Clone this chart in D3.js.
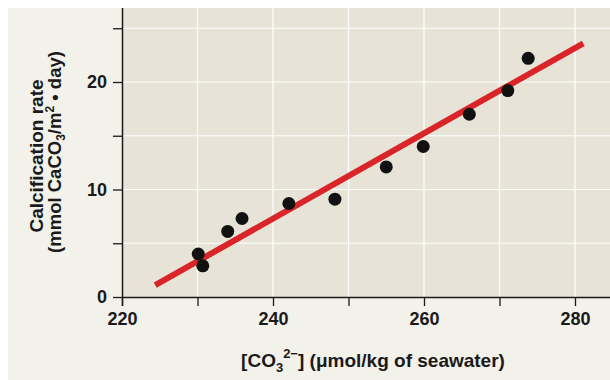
<!DOCTYPE html>
<html>
<head>
<meta charset="utf-8">
<script src="https://cdn.jsdelivr.net/npm/d3@7"></script>
<style>
  body { margin: 0; background: #ffffff; }
  svg { display: block; font-family: "Liberation Sans", Arial, sans-serif; font-weight: bold; }
</style>
</head>
<body>
<svg id="chart" width="610" height="380"></svg>
<script>
// carbonate ion concentration (µmol/kg)
const carbonate = [230.1, 230.7, 234.0, 235.9, 242.1, 248.2, 255.0, 259.9, 266.0, 271.1, 273.8];
// calcification rate (mmol CaCO3 / m2 / day)
const calcRate = [4.0, 2.9, 6.1, 7.3, 8.7, 9.1, 12.1, 14.0, 17.0, 19.2, 22.2];
// fitted line ends
const fitX = [224.4, 281.1];
const fitY = [1.1, 23.6];
const xTicks = [220, 230, 240, 250, 260, 270, 280];
const xLabels = [220, 240, 260, 280];
const yTicks = [0, 5, 10, 15, 20, 25];
const yLabels = [0, 10, 20];

const svg = d3.select("svg#chart");
const W = 610, H = 380;
const ink = "#1a1a1a";

// outer panel
svg.append("rect").attr("x", 8).attr("y", 8).attr("width", W - 8).attr("height", H - 8).attr("fill", "#f2f1ea");

const x = d3.scaleLinear().domain([220, 280]).range([122, 575]);
const y = d3.scaleLinear().domain([0, 20]).range([297, 82]);

// plot area
svg.append("rect")
  .attr("x", x(220)).attr("y", 8)
  .attr("width", W - x(220)).attr("height", y(0) - 8)
  .attr("fill", "#e7e4d7");

// grid
const grid = svg.append("g").attr("stroke", "#ffffff").attr("stroke-width", 1.2);
grid.selectAll("line.v")
  .data(xTicks.slice(1))
  .join("line")
  .attr("x1", (d) => x(d)).attr("x2", (d) => x(d))
  .attr("y1", 8).attr("y2", y(0));
grid.selectAll("line.h")
  .data(yTicks.slice(1))
  .join("line")
  .attr("x1", x(220)).attr("x2", W)
  .attr("y1", (d) => y(d)).attr("y2", (d) => y(d));

// axes
const xAxis = svg.append("g")
  .attr("transform", `translate(0, ${y(0)})`)
  .call(d3.axisBottom(x).tickValues(xTicks).tickSize(9).tickSizeOuter(0)
    .tickFormat((d) => xLabels.includes(d) ? d : ""));
xAxis.select(".domain").attr("d", `M${x(220)},0.5H${W}`).attr("stroke", ink).attr("stroke-width", 1.5);
xAxis.selectAll(".tick line").attr("stroke", ink).attr("stroke-width", 1.3);
xAxis.selectAll("text").attr("font-size", 18).attr("font-family", "Liberation Sans, Arial, sans-serif")
  .attr("font-weight", "bold").attr("fill", ink).attr("dy", "0.9em");

const yAxis = svg.append("g")
  .attr("transform", `translate(${x(220)}, 0)`)
  .call(d3.axisLeft(y).tickValues(yTicks).tickSize(9).tickSizeOuter(0)
    .tickFormat((d) => yLabels.includes(d) ? d : ""));
yAxis.select(".domain").attr("d", `M0.5,8V${y(0) + 9}`).attr("stroke", ink).attr("stroke-width", 1.5);
yAxis.selectAll(".tick line").attr("stroke", ink).attr("stroke-width", 1.3);
yAxis.selectAll("text").attr("font-size", 18).attr("font-family", "Liberation Sans, Arial, sans-serif")
  .attr("font-weight", "bold").attr("fill", ink).attr("x", -15);

// fit line
svg.append("line")
  .attr("x1", x(fitX[0])).attr("y1", y(fitY[0]))
  .attr("x2", x(fitX[1])).attr("y2", y(fitY[1]))
  .attr("stroke", "#d9252a").attr("stroke-width", 6);

// points
svg.append("g")
  .selectAll("circle")
  .data(carbonate)
  .join("circle")
  .attr("cx", (d) => x(d))
  .attr("cy", (d, i) => y(calcRate[i]))
  .attr("r", 6.5)
  .attr("fill", "#111111");

// x title
const xt = svg.append("text")
  .attr("x", 373).attr("y", 367)
  .attr("text-anchor", "middle").attr("font-size", 19).attr("fill", ink);
xt.append("tspan").text("[CO");
xt.append("tspan").attr("font-size", 13).attr("dy", 5).text("3");
xt.append("tspan").attr("font-size", 13).attr("dy", -14).text("2\u2212");
xt.append("tspan").attr("dy", 9).text("] (\u03bcmol/kg of seawater)");

// y title
const yt = svg.append("g").attr("transform", "rotate(-90)");
yt.append("text").attr("x", -156).attr("y", 43)
  .attr("text-anchor", "middle").attr("font-size", 19).attr("fill", ink)
  .text("Calcification rate");
const yt2 = yt.append("text").attr("x", -152).attr("y", 61)
  .attr("text-anchor", "middle").attr("font-size", 18.5).attr("fill", ink);
yt2.append("tspan").text("(mmol CaCO");
yt2.append("tspan").attr("font-size", 12).attr("dy", 4).text("3");
yt2.append("tspan").attr("dy", -4).text("/m");
yt2.append("tspan").attr("font-size", 12).attr("dy", -7).text("2");
yt2.append("tspan").attr("dy", 7).text(" \u2022 day)");
</script>
</body>
</html>
